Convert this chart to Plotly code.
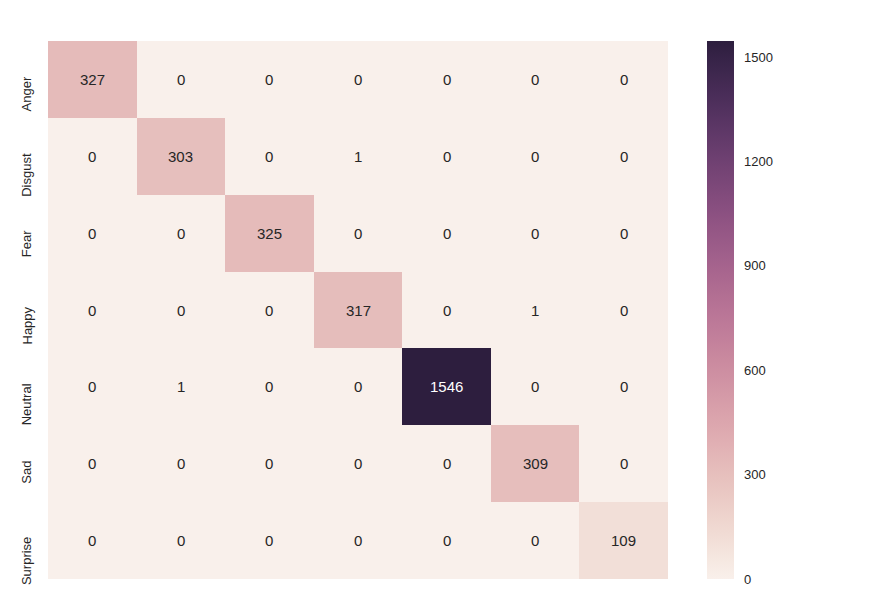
import numpy as np
import plotly.graph_objects as go

classes = ["Anger", "Disgust", "Fear", "Happy", "Neutral", "Sad", "Surprise"]
x_labels = ["0", "1", "2", "3", "4", "5", "6"]
row_anger = [327, 0, 0, 0, 0, 0, 0]
row_disgust = [0, 303, 0, 1, 0, 0, 0]
row_fear = [0, 0, 325, 0, 0, 0, 0]
row_happy = [0, 0, 0, 317, 0, 1, 0]
row_neutral = [0, 1, 0, 0, 1546, 0, 0]
row_sad = [0, 0, 0, 0, 0, 309, 0]
row_surprise = [0, 0, 0, 0, 0, 0, 109]
cbar_ticks = [0, 300, 600, 900, 1200, 1500]

z = [row_anger, row_disgust, row_fear, row_happy, row_neutral, row_sad, row_surprise]
zmax = max(max(r) for r in z)

FONT = "Liberation Sans, Arial"
TXT = "#262626"


# seaborn cubehelix_palette(light=.95, as_cmap=True)
def cubehelix(x, start=0, rot=.4, gamma=1.0, hue=0.8):
    xg = x ** gamma
    a = hue * xg * (1 - xg) / 2
    phi = 2 * np.pi * (start / 3 + rot * x)
    r = xg + a * (-0.14861 * np.cos(phi) + 1.78277 * np.sin(phi))
    g = xg + a * (-0.29227 * np.cos(phi) - 0.90649 * np.sin(phi))
    b = xg + a * (1.97294 * np.cos(phi))
    return np.clip([r, g, b], 0, 1)


light, dark = 0.95, 0.15


def color_at(t):
    return cubehelix(light + (dark - light) * t)


stops = np.linspace(0, 1, 33)
colorscale = []
for s in stops:
    r, g, b = color_at(s)
    colorscale.append([float(s), "rgb(%d,%d,%d)" % (round(r * 255), round(g * 255), round(b * 255))])


def lum(rgb):
    rgb = np.array(rgb)
    rgb = np.where(rgb <= .03928, rgb / 12.92, ((rgb + .055) / 1.055) ** 2.4)
    return .2126 * rgb[0] + .7152 * rgb[1] + .0722 * rgb[2]


fig = go.Figure()
fig.add_trace(go.Heatmap(
    z=z, x=x_labels, y=classes, zmin=0, zmax=zmax,
    colorscale=colorscale, hoverongaps=False,
    colorbar=dict(
        x=(707 - 48) / 620, xanchor="left", xref="paper", xpad=0,
        y=0, yanchor="bottom", len=1, lenmode="fraction", ypad=0,
        thickness=27, outlinewidth=0, ticks="outside", ticklen=8,
        tickcolor="rgba(0,0,0,0)", tickvals=cbar_ticks,
        tickfont=dict(family=FONT, size=13, color=TXT),
    ),
))

annotations = []
for i, row in enumerate(z):
    for j, v in enumerate(row):
        c = color_at(v / zmax)
        col = TXT if lum(c) > .408 else "white"
        annotations.append(dict(
            x=x_labels[j], y=classes[i], text=str(v), showarrow=False,
            font=dict(family=FONT, size=15, color=col),
        ))

# y tick labels (rotated, end aligned near the row centre as in the original)
for name in classes:
    annotations.append(dict(
        x=0, xref="paper", y=name, yref="y", text=name, showarrow=False,
        textangle=-90, xanchor="right", yanchor="top", xshift=-12, yshift=5,
        font=dict(family=FONT, size=13, color=TXT),
    ))

fig.update_layout(
    width=873, height=591,
    margin=dict(l=48, r=205, t=41, b=12, autoexpand=False),
    paper_bgcolor="white", plot_bgcolor="white",
    annotations=annotations,
    xaxis=dict(showgrid=False, zeroline=False, ticks="outside", ticklen=6,
               tickcolor="rgba(0,0,0,0)", automargin=False,
               tickfont=dict(family=FONT, size=13, color=TXT)),
    yaxis=dict(autorange="reversed", showgrid=False, zeroline=False,
               showticklabels=False, automargin=False),
)

fig.write_html("out.html")
